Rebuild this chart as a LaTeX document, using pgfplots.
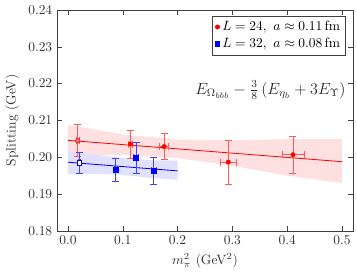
\documentclass[border=0pt]{standalone}
\usepackage{pgfplots}
\pgfplotsset{compat=1.18}
\usepackage{pgfplotstable}

\pgfplotstableread{
x y ex ey
0.0180 0.2045 0.002 0.0044
0.1140 0.2036 0.004 0.0038
0.1755 0.2029 0.008 0.0035
0.2925 0.1987 0.014 0.0060
0.4106 0.2007 0.020 0.0051
}\redpts

\pgfplotstableread{
x y ex ey
0.0207 0.1985 0.002 0.0028
0.0870 0.1966 0.003 0.0032
0.1243 0.1999 0.004 0.0042
0.1565 0.1963 0.004 0.0037
}\bluepts

\begin{document}
\begin{tikzpicture}
\begin{axis}[
  scale only axis,
  width=219.7pt, height=164pt,
  xmin=-0.02, xmax=0.52,
  ymin=0.18, ymax=0.24,
  xtick={0,0.1,0.2,0.3,0.4,0.5},
  ytick={0.18,0.19,0.20,0.21,0.22,0.23,0.24},
  xticklabel style={/pgf/number format/.cd,fixed,fixed zerofill,precision=1},
  yticklabel style={/pgf/number format/.cd,fixed,fixed zerofill,precision=2},
  tick align=inside,
  major tick length=4pt,
  axis line style={black!75},
  tick style={black!75},
  ticklabel style={text=black!80},
  label style={text=black!80},
  xlabel={$m_\pi^2$ (GeV$^2$)},
  ylabel={Splitting (GeV)},
  legend style={at={(1,1)}, anchor=north east, xshift=-5.4pt, yshift=-4.2pt,
    draw=black!75, inner sep=2pt, row sep=0pt, font=\normalsize},
  legend cell align=left,
]
% bands
\addplot[draw=none, fill=red!12, forget plot] coordinates {
 (0,0.2088) (0.1,0.2062) (0.2,0.2048) (0.3,0.2046) (0.4,0.2049) (0.5,0.2049)
 (0.5,0.1930) (0.4,0.1950) (0.3,0.1977) (0.2,0.1998) (0.1,0.2007) (0,0.2004)} -- cycle;
\addplot[draw=none, fill=blue!12, forget plot] coordinates {
 (0,0.2017) (0.05,0.2007) (0.1,0.1998) (0.15,0.1992) (0.2,0.1991)
 (0.2,0.1939) (0.15,0.1944) (0.1,0.1952) (0.05,0.1955) (0,0.1955)} -- cycle;
% fit lines
\addplot[red, line width=0.6pt, forget plot] coordinates {(0,0.2046) (0.5,0.1988)};
\addplot[blue, line width=0.6pt, forget plot] coordinates {(0,0.19865) (0.2,0.1963)};
% data
\addplot[only marks, mark=*, mark size=1.6pt, red, forget plot,
  error bars/.cd, x dir=both, x explicit, y dir=both, y explicit,
  error bar style={red!65, line width=0.6pt},
  error mark options={red!65, rotate=90, mark size=2.6pt, line width=0.6pt}]
  table[x=x, y=y, x error=ex, y error=ey] {\redpts};
\addplot[only marks, mark=square*, mark size=1.8pt, blue, forget plot,
  error bars/.cd, x dir=both, x explicit, y dir=both, y explicit,
  error bar style={blue!75, line width=0.6pt},
  error mark options={blue!75, rotate=90, mark size=2.6pt, line width=0.6pt}]
  table[x=x, y=y, x error=ex, y error=ey, skip coords between index={0}{1}] {\bluepts};
% points near physical pion mass
\addplot[only marks, mark=*, mark size=1.6pt, mark options={draw=red, fill=red!45}, forget plot]
  coordinates {(0.0180,0.2045)};
\addplot[only marks, mark=square*, mark size=1.8pt, mark options={draw=blue, fill=white}, forget plot,
  error bars/.cd, x dir=both, x explicit, y dir=both, y explicit,
  error bar style={blue!75, line width=0.6pt},
  error mark options={blue!75, rotate=90, mark size=2.6pt, line width=0.6pt}]
  table[x=x, y=y, x error=ex, y error=ey, skip coords between index={1}{4}] {\bluepts};
\addlegendimage{only marks, mark=*, mark size=1.6pt, red}
\addlegendentry{$L=24,\ a\approx0.11\,\mathrm{fm}$}
\addlegendimage{only marks, mark=square*, mark size=1.6pt, blue}
\addlegendentry{$L=32,\ a\approx0.08\,\mathrm{fm}$}
\node[text=black!85, anchor=east, font=\large, inner sep=0pt] at (axis cs:0.507,0.2182)
  {$E_{\Omega_{bbb}}-\frac{3}{8}\left(E_{\eta_b}+3E_{\Upsilon}\right)$};
\end{axis}
\pgfresetboundingbox
\path ([shift={(-42.3pt,-32.9pt)}]current axis.south west) rectangle ([shift={(3pt,7.4pt)}]current axis.north east);
\end{tikzpicture}
\end{document}
